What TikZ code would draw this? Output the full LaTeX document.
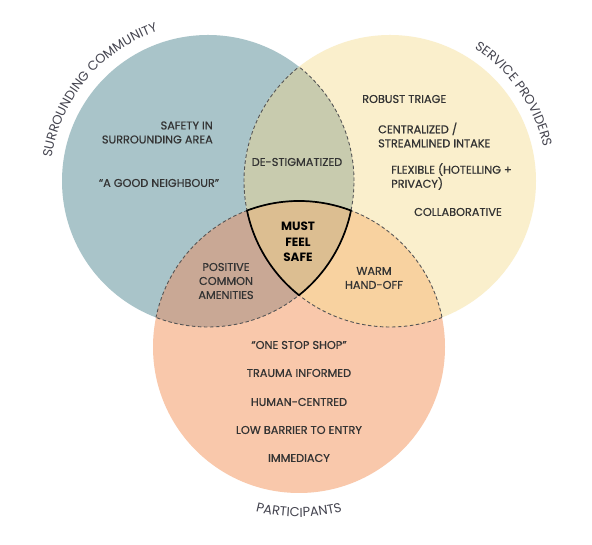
\documentclass[tikz,border=0pt]{standalone}
\usepackage{fontspec}
\setmainfont{Poppins}
\newfontfamily\popmed{Poppins}[FakeBold=0.6]
\usetikzlibrary{decorations.text}
\definecolor{cL}{HTML}{A9C4C9}
\definecolor{cR}{HTML}{FAEFCC}
\definecolor{cB}{HTML}{F9C8AB}
\definecolor{cLR}{HTML}{C8CBAE}
\definecolor{cLB}{HTML}{C9A895}
\definecolor{cRB}{HTML}{F8D2A0}
\definecolor{cC}{HTML}{DCBE91}
\definecolor{txt}{HTML}{333333}
\definecolor{lbl}{HTML}{454550}
\definecolor{dashc}{HTML}{555555}
\tikzset{
  dsh/.style={draw=dashc, line width=0.9pt, dash pattern=on 3.5pt off 2.5pt},
  ctr/.style={draw=black, line width=1.7pt, line join=round},
  item/.style={text=txt, font=\popmed\fontsize{11.3}{14}\selectfont, inner sep=0pt},
  bolditem/.style={text=black, font=\fontsize{12}{15.5}\selectfont\bfseries, inner sep=0pt, align=center},
}
\begin{document}
\begin{tikzpicture}[x=1pt,y=1pt]
\useasboundingbox (0,0) rectangle (592,545);
\fill[white] (0,0) rectangle (592,545);
\def\rad{146}
\coordinate (L) at (208,364);
\coordinate (R) at (390,364);
\coordinate (B) at (299,198);
% base fills
\fill[cL] (L) circle (\rad);
\fill[cR] (R) circle (\rad);
\fill[cB] (B) circle (\rad);
\begin{scope}\clip (L) circle (\rad); \fill[cLR] (R) circle (\rad); \end{scope}
\begin{scope}\clip (L) circle (\rad); \fill[cLB] (B) circle (\rad); \end{scope}
\begin{scope}\clip (R) circle (\rad); \fill[cRB] (B) circle (\rad); \end{scope}
% dashed inner arcs
\begin{scope}\clip (L) circle (\rad); \draw[dsh] (R) circle (\rad); \draw[dsh] (B) circle (\rad); \end{scope}
\begin{scope}\clip (R) circle (\rad); \draw[dsh] (L) circle (\rad); \draw[dsh] (B) circle (\rad); \end{scope}
\begin{scope}\clip (B) circle (\rad); \draw[dsh] (L) circle (\rad); \draw[dsh] (R) circle (\rad); \end{scope}
% centre region
\coordinate (P2) at (247.02,334.43);
\path[fill=cC, ctr] (P2) arc[start angle=110.86, end angle=69.14, radius=\rad]
  arc[start angle=-11.68, end angle=-51.45, radius=\rad]
  arc[start angle=231.45, end angle=191.68, radius=\rad] -- cycle;
% texts
\node[item, anchor=east, align=right] (safety) at (213,412.5) {SAFETY IN\\SURROUNDING AREA};
\node[item] (neigh) at (159,362) {“A GOOD NEIGHBOUR”};
\node[item] (destig) at (297,383) {DE-STIGMATIZED};
\node[item, anchor=west] (triage) at (362,446) {ROBUST TRIAGE};
\node[item, anchor=west, align=left] (central) at (378,410) {CENTRALIZED /\\STREAMLINED INTAKE};
\node[item, anchor=west, align=left] (flex) at (391,368.5) {FLEXIBLE (HOTELLING +\\PRIVACY)};
\node[item] (collab) at (458,333) {COLLABORATIVE};
\node[bolditem] (must) at (298,303) {MUST\\FEEL\\SAFE};
\node[item, align=center] (posit) at (226,264) {POSITIVE\\COMMON\\AMENITIES};
\node[item, align=center] (warm) at (374,267) {WARM\\HAND-OFF};
\node[item] (shop) at (299,200) {“ONE STOP SHOP”};
\node[item] (trauma) at (299,172) {TRAUMA INFORMED};
\node[item] (human) at (299,143) {HUMAN-CENTRED};
\node[item] (low) at (299,115) {LOW BARRIER TO ENTRY};
\node[item] (immed) at (299,87) {IMMEDIACY};
% curved labels
\begin{scope}
\fontsize{13}{15}\selectfont
\path[decorate, decoration={text along path, text align=center,
  text={|\color{lbl}|SURROUNDING COMMUNITY}}]
  (L) ++(174:158) arc[start angle=174, end angle=106, radius=158];
\path[decorate, decoration={text along path, text align=center,
  text={|\color{lbl}|SERVICE PROVIDERS}}]
  (R) ++(62:157) arc[start angle=62, end angle=8, radius=157];
\path[decorate, decoration={text along path, text align=center,
  text={|\color{lbl}|PARTICIPANTS}}]
  (B) ++(250:170) arc[start angle=250, end angle=290, radius=170];
\end{scope}
\end{tikzpicture}
\end{document}
